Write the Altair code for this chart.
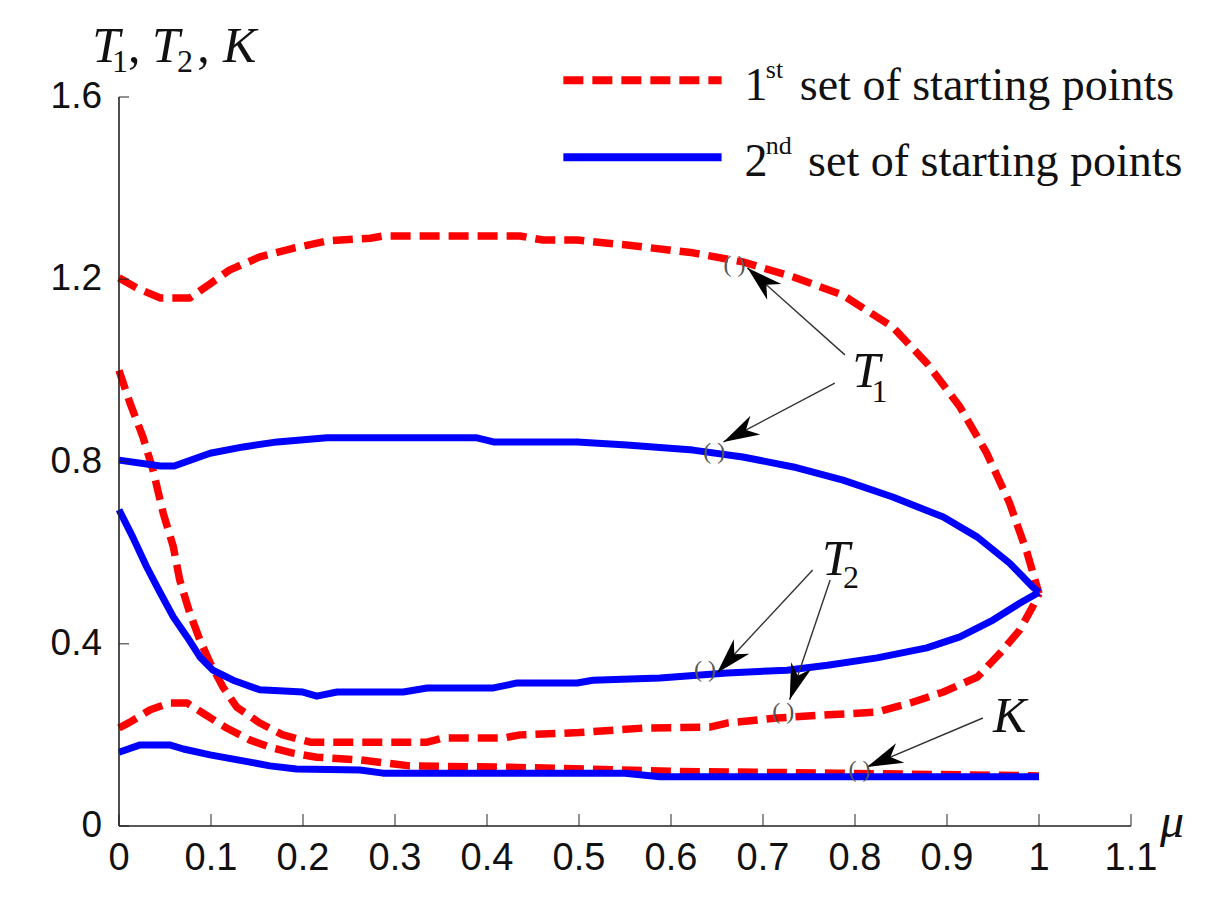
import math
import altair as alt
import pandas as pd

# ---------------- data ----------------
# 1st set of starting points (red, dashed)
red_T1_mu = [0, 0.02, 0.045, 0.077, 0.099, 0.12, 0.153, 0.189, 0.226, 0.273, 0.287, 0.436, 0.461, 0.498,
             0.552, 0.624, 0.678, 0.733, 0.787, 0.841, 0.878, 0.914, 0.943, 0.968, 0.987, 1.0]
red_T1_val = [1.203, 1.18, 1.159, 1.159, 1.19, 1.22, 1.249, 1.268, 1.284, 1.29, 1.295, 1.295, 1.286, 1.286,
              1.275, 1.258, 1.238, 1.205, 1.165, 1.095, 1.016, 0.92, 0.819, 0.709, 0.60, 0.51]

red_T2_mu = [0, 0.012, 0.026, 0.037, 0.048, 0.059, 0.066, 0.077, 0.088, 0.099, 0.113, 0.128, 0.153, 0.178,
             0.208, 0.335, 0.352, 0.417, 0.436, 0.5, 0.57, 0.642, 0.661, 0.715, 0.77, 0.824, 0.86, 0.896,
             0.933, 0.958, 0.979, 0.993, 1.0]
red_T2_val = [1.0, 0.928, 0.854, 0.781, 0.687, 0.613, 0.54, 0.467, 0.408, 0.358, 0.305, 0.261, 0.226, 0.20,
              0.184, 0.184, 0.193, 0.193, 0.20, 0.205, 0.215, 0.217, 0.226, 0.237, 0.244, 0.25, 0.27, 0.294,
              0.327, 0.38, 0.43, 0.481, 0.51]

red_K_mu = [0, 0.012, 0.034, 0.055, 0.074, 0.091, 0.117, 0.142, 0.164, 0.189, 0.215, 0.262, 0.316, 0.425,
            0.6, 0.78, 1.0]
red_K_val = [0.215, 0.228, 0.255, 0.27, 0.27, 0.248, 0.215, 0.189, 0.173, 0.16, 0.151, 0.145, 0.132, 0.129,
             0.12, 0.116, 0.11]

# 2nd set of starting points (blue, solid)
blue_T1_mu = [0, 0.045, 0.06, 0.099, 0.135, 0.172, 0.226, 0.389, 0.407, 0.498, 0.552, 0.624, 0.678, 0.733,
              0.787, 0.841, 0.896, 0.933, 0.968, 0.993, 1.0]
blue_T1_val = [0.803, 0.79, 0.79, 0.818, 0.832, 0.843, 0.852, 0.852, 0.843, 0.843, 0.836, 0.825, 0.81, 0.788,
               0.759, 0.722, 0.678, 0.634, 0.577, 0.525, 0.513]

blue_T2_mu = [0, 0.015, 0.03, 0.045, 0.059, 0.074, 0.088, 0.102, 0.124, 0.153, 0.2, 0.215, 0.237, 0.309,
              0.335, 0.407, 0.433, 0.498, 0.515, 0.588, 0.661, 0.726, 0.77, 0.824, 0.878, 0.914, 0.95,
              0.979, 1.0]
blue_T2_val = [0.694, 0.634, 0.569, 0.511, 0.459, 0.415, 0.371, 0.342, 0.32, 0.299, 0.294, 0.285, 0.294, 0.294,
               0.303, 0.303, 0.314, 0.314, 0.32, 0.325, 0.336, 0.342, 0.353, 0.369, 0.391, 0.415, 0.452,
               0.489, 0.513]

blue_K_mu = [0, 0.023, 0.055, 0.07, 0.099, 0.135, 0.164, 0.193, 0.262, 0.287, 0.55, 0.588, 1.0]
blue_K_val = [0.162, 0.178, 0.178, 0.169, 0.156, 0.143, 0.132, 0.125, 0.123, 0.116, 0.116, 0.108, 0.108]

x_ticks = [0, 0.1, 0.2, 0.3, 0.4, 0.5, 0.6, 0.7, 0.8, 0.9, 1.0, 1.1]
x_tick_labels = ["0", "0.1", "0.2", "0.3", "0.4", "0.5", "0.6", "0.7", "0.8", "0.9", "1", "1.1"]
y_ticks = [0, 0.4, 0.8, 1.2, 1.6]
y_tick_labels = ["0", "0.4", "0.8", "1.2", "1.6"]

legend_labels = ["1st set of starting points", "2nd set of starting points"]

# annotation arrows: tail (x, y) -> tip (x2, y2), in data units
arrow_tail_x = [0.789, 0.778, 0.754, 0.773, 0.939]
arrow_tail_y = [1.034, 0.972, 0.562, 0.540, 0.237]
arrow_tip_x = [0.683, 0.657, 0.650, 0.729, 0.813]
arrow_tip_y = [1.225, 0.843, 0.336, 0.277, 0.1295]
# small bracket marks where the arrows touch the curves
bracket_x = [0.669, 0.647, 0.637, 0.722, 0.805]
bracket_y = [1.231, 0.821, 0.342, 0.250, 0.123]

# ---------------- build tables ----------------
W, H = 1012, 729
X_DOM, Y_DOM = [0, 1.1], [0, 1.6]
PX_X = W / (X_DOM[1] - X_DOM[0])
PX_Y = H / (Y_DOM[1] - Y_DOM[0])


def curve(name, mu, val):
    return pd.DataFrame({"curve": name, "mu": mu, "val": val, "order": range(len(mu))})


red_df = pd.concat([curve("T1", red_T1_mu, red_T1_val),
                    curve("T2", red_T2_mu, red_T2_val),
                    curve("K", red_K_mu, red_K_val)])
blue_df = pd.concat([curve("T1", blue_T1_mu, blue_T1_val),
                     curve("T2", blue_T2_mu, blue_T2_val),
                     curve("K", blue_K_mu, blue_K_val)])

arrows = pd.DataFrame({"x": arrow_tail_x, "y": arrow_tail_y, "x2": arrow_tip_x, "y2": arrow_tip_y})
arrows["angle"] = [
    math.degrees(math.atan2((x2 - x) * PX_X, (y2 - y) * PX_Y)) % 360
    for x, y, x2, y2 in zip(arrows.x, arrows.y, arrows.x2, arrows.y2)
]

xs = alt.Scale(domain=X_DOM, nice=False, zero=False)
ys = alt.Scale(domain=Y_DOM, nice=False, zero=False)

RED = "#ff0000"
BLUE = "#0000ff"
LW = 7
AXIS_COLOR = "#222222"


def X(f):
    return alt.X(f, scale=xs, axis=None)


def Y(f):
    return alt.Y(f, scale=ys, axis=None)


red_lines = alt.Chart(red_df).mark_line(color=RED, strokeWidth=LW + 0.5, strokeDash=[20, 9],
                                        strokeCap="butt", strokeJoin="round").encode(
    x=X("mu:Q"), y=Y("val:Q"), detail="curve:N", order="order:Q")
blue_lines = alt.Chart(blue_df).mark_line(color=BLUE, strokeWidth=LW, strokeJoin="round").encode(
    x=X("mu:Q"), y=Y("val:Q"), detail="curve:N", order="order:Q")

# axes (drawn from the tick arrays through the scales)
xt = pd.DataFrame({"v": x_ticks, "lab": x_tick_labels, "z": 0.0})
yt = pd.DataFrame({"v": y_ticks, "lab": y_tick_labels, "z": 0.0})
dom = pd.DataFrame({"x0": [X_DOM[0]], "x1": [X_DOM[1]], "y0": [Y_DOM[0]], "y1": [Y_DOM[1]]})

x_domain = alt.Chart(dom).mark_rule(color=AXIS_COLOR, strokeWidth=1.6).encode(
    x=X("x0:Q"), x2="x1:Q", y=Y("y0:Q"))
y_domain = alt.Chart(dom).mark_rule(color=AXIS_COLOR, strokeWidth=1.6).encode(
    x=X("x0:Q"), y=Y("y0:Q"), y2="y1:Q")
x_tick_marks = alt.Chart(xt).mark_tick(orient="vertical", size=12, thickness=1.4,
                                       color=AXIS_COLOR, yOffset=-6).encode(
    x=X("v:Q"), y=Y("z:Q"))
y_tick_marks = alt.Chart(yt).mark_tick(orient="horizontal", size=10, thickness=1.4,
                                       color=AXIS_COLOR, xOffset=5).encode(
    y=Y("v:Q"), x=X("z:Q"))
x_labels = alt.Chart(xt).mark_text(font="Liberation Sans", fontSize=38, color="#111111",
                                   align="center", baseline="middle", dy=33).encode(
    x=X("v:Q"), y=Y("z:Q"), text="lab:N")
y_labels = alt.Chart(yt).mark_text(font="Liberation Sans", fontSize=37, color="#111111",
                                   align="right", baseline="middle", dx=-17).encode(
    y=Y("v:Q"), x=X("z:Q"), text="lab:N")

arrow_lines = alt.Chart(arrows).mark_rule(color="#333333", strokeWidth=1.4).encode(
    x=X("x:Q"), y=Y("y:Q"), x2="x2:Q", y2="y2:Q")
arrow_heads = alt.Chart(arrows).mark_point(
    shape="M0,0 L0.5,1.7 L0,1.2 L-0.5,1.7 Z", filled=True, color="#000000", opacity=1,
    size=1800, strokeWidth=0,
).encode(x=X("x2:Q"), y=Y("y2:Q"), angle=alt.Angle("angle:Q", scale=None))
brackets = alt.Chart(pd.DataFrame({"x": bracket_x, "y": bracket_y, "t": "( )"})).mark_text(
    font="Liberation Serif", fontSize=24, color="#555555", align="center", baseline="middle",
).encode(x=X("x:Q"), y=Y("y:Q"), text="t:N")

# legend samples
leg_lines = pd.DataFrame({"set": legend_labels, "x": [0.483, 0.483], "x2": [0.655, 0.655],
                          "y": [1.637, 1.468]})
leg_red = alt.Chart(leg_lines.iloc[[0]]).mark_rule(color=RED, strokeWidth=LW + 1, strokeDash=[20, 9],
                                                   strokeCap="butt").encode(
    x=X("x:Q"), x2="x2:Q", y=Y("y:Q"))
leg_blue = alt.Chart(leg_lines.iloc[[1]]).mark_rule(color=BLUE, strokeWidth=LW + 1,
                                                    strokeCap="butt").encode(
    x=X("x:Q"), x2="x2:Q", y=Y("y:Q"))


def text_layer(rows, size, italic=False, font="Liberation Serif", color="#111111"):
    df = pd.DataFrame(rows, columns=["t", "x", "y"])
    return alt.Chart(df).mark_text(
        font=font, fontSize=size, fontStyle="italic" if italic else "normal",
        align="left", baseline="alphabetic", color=color,
    ).encode(x=X("x:Q"), y=Y("y:Q"), text="t:N")


big_italic = text_layer([
    ("T", -0.029, 1.677), ("T", 0.036, 1.677), ("K", 0.113, 1.677),   # axis title
    ("T", 0.797, 0.964), ("T", 0.764, 0.551), ("K", 0.950, 0.206),    # annotations
], 50, italic=True)
subs = text_layer([
    ("1", -0.0076, 1.655), ("2", 0.063, 1.655),
    ("1", 0.818, 0.931), ("2", 0.787, 0.522),
], 32)
commas = text_layer([(",", 0.0098, 1.677), (",", 0.085, 1.677)], 50)
mu_label = text_layer([("μ", 1.1315, -0.024)], 48, italic=True)
leg_main = text_layer([
    ("1", 0.680, 1.593), ("set of starting points", 0.740, 1.593),
    ("2", 0.680, 1.427), ("set of starting points", 0.749, 1.427),
], 46)
leg_sup = text_layer([("st", 0.703, 1.642), ("nd", 0.703, 1.475)], 26)

chart = alt.layer(
    red_lines, blue_lines,
    x_domain, y_domain, x_tick_marks, y_tick_marks, x_labels, y_labels,
    arrow_lines, arrow_heads, brackets, leg_red, leg_blue,
    big_italic, subs, commas, mu_label, leg_main, leg_sup,
).properties(
    width=W, height=H,
    padding={"left": 111, "top": 89, "right": 74, "bottom": 69},
    autosize=alt.AutoSizeParams(type="none"),
    background="white",
).configure_view(stroke=None)

chart.save("out.html", embed_options={"renderer": "svg", "actions": False})
